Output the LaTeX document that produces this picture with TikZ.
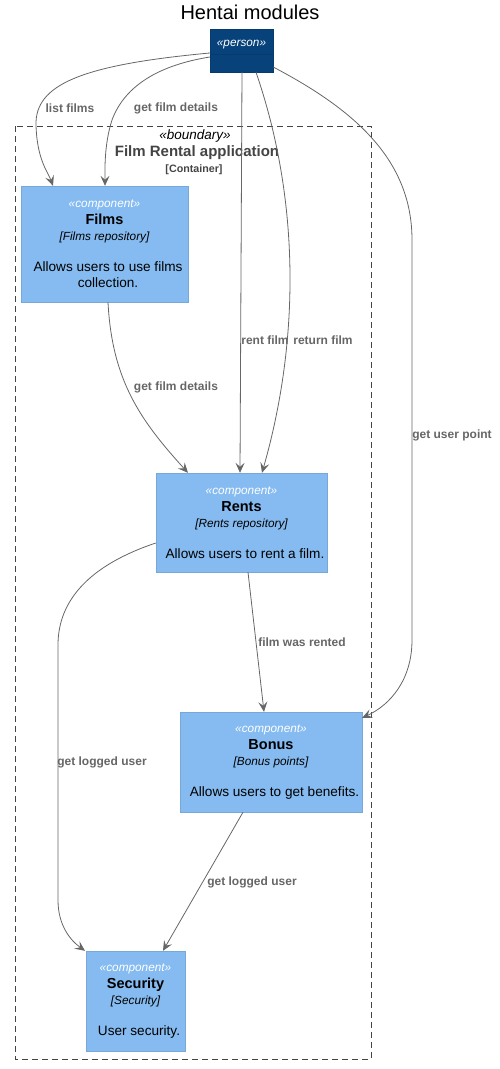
\documentclass[tikz,border=0pt]{standalone}
\usepackage{fontspec}
\setmainfont{Liberation Sans}
\usepackage{xcolor}
\usetikzlibrary{arrows.meta,positioning}
\definecolor{person-blue}{HTML}{08427B}
\definecolor{person-line}{HTML}{073B6F}
\definecolor{comp-blue}{HTML}{85BBF0}
\definecolor{comp-line}{HTML}{78A8D8}
\definecolor{rel-gray}{HTML}{666666}
\definecolor{bound-gray}{HTML}{444444}
\tikzset{
    person-box/.style = {draw=person-line, fill=person-blue, minimum width=63pt, minimum height=43pt, inner sep=0pt},
    comp-box/.style = {draw=comp-line, fill=comp-blue, align=center, inner sep=0pt, font=\fontsize{13.6}{16.5}\selectfont},
    rel/.style = {draw=rel-gray, line width=0.8pt, -{Stealth[length=10pt,width=9pt,inset=4pt]}},
    rel-label/.style = {text=rel-gray, inner sep=0pt, font=\fontsize{12}{14}\selectfont\bfseries},
    boundary-box/.style = {draw=bound-gray, dash pattern=on 6pt off 4pt},
}
\newcommand{\stereo}[1]{{\color{white}\fontsize{11.8}{13}\selectfont\itshape #1}}
\newcommand{\compname}[1]{{\fontsize{14.5}{16}\selectfont\bfseries #1}}
\newcommand{\comptech}[1]{{\fontsize{11.8}{13}\selectfont\itshape #1}}
\newcommand{\compdesc}[1]{\hspace*{7pt}#1}

\begin{document}
\begin{tikzpicture}[x=1pt, y=-1pt]
\useasboundingbox (0,0) rectangle (500,1069);

\node (title) at (250,12) {\fontsize{20}{22}\selectfont Hentai modules};

% boundary
\draw[boundary-box] (15,126) rectangle (371,1059);
\node (bound-stereo) at (195,136) {\fontsize{13.5}{15}\selectfont\itshape «boundary»};
\node[text=bound-gray] (bound-name) at (197,153) {\fontsize{15}{17}\selectfont\bfseries Film Rental application};
\node[text=bound-gray] (bound-type) at (194,170) {\fontsize{10.7}{12}\selectfont\bfseries [Container]};

% person
\node[person-box] (person) at (241.5,50.5) {};
\node (person-stereo) at (241.5,45) {\stereo{«person»}};
\draw[person-line] ([yshift=-3.5pt]person.west) -- ([yshift=-3.5pt]person.east);

% components
\node[comp-box, minimum width=167pt, minimum height=116pt] (films) at (104.5,244) {\stereo{«component»}\\ \compname{Films}\\ \comptech{[Films repository]}\\[14pt] \compdesc{Allows users to use films}\\ \compdesc{collection.}};
\node[comp-box, minimum width=171pt, minimum height=99pt] (rents) at (241.5,522.5) {\stereo{«component»}\\ \compname{Rents}\\ \comptech{[Rents repository]}\\[14pt] \compdesc{Allows users to rent a film.}};
\node[comp-box, minimum width=182pt, minimum height=100pt] (bonus) at (271,762) {\stereo{«component»}\\ \compname{Bonus}\\ \comptech{[Bonus points]}\\[14pt] \compdesc{Allows users to get benefits.}};
\node[comp-box, minimum width=99pt, minimum height=100pt] (security) at (135.5,1001) {\stereo{«component»}\\ \compname{Security}\\ \comptech{[Security]}\\[14pt] \compdesc{User security.}};

% relations
\draw[rel] ([yshift=-2.5pt]person.west) .. controls (80,65) and (35,85) .. (36,125) .. controls (37,160) and (48,172) .. ([xshift=-51.5pt]films.north);
\node[rel-label] (lbl-list) at (70,108) {list films};

\draw[rel] ([yshift=-6.5pt]person.west) .. controls (160,65) and (125,85) .. (112,120) .. controls (104,145) and (105,170) .. ([xshift=0.5pt]films.north);
\node[rel-label] (lbl-details-a) at (176,108) {get film details};

\draw[rel] ([xshift=0.5pt]person.south) -- ([xshift=-1.5pt]rents.north);
\node[rel-label] (lbl-rent) at (265,340) {rent film};

\draw[rel] ([xshift=14.5pt]person.south) .. controls (300,200) and (300,340) .. ([xshift=20.5pt]rents.north);
\node[rel-label] (lbl-return) at (323,340) {return film};

\draw[rel] ([yshift=-16.5pt]person.east) .. controls (355,110) and (412,160) .. (412,240) -- (412,640) .. controls (412,680) and (390,705) .. ([yshift=-6pt]bonus.north east);
\node[rel-label] (lbl-point) at (452,435) {get user point};

\draw[rel] ([xshift=3.5pt]films.south) .. controls (112,380) and (140,420) .. ([xshift=-53.5pt]rents.north);
\node[rel-label] (lbl-details-b) at (176,387) {get film details};

\draw[rel] ([xshift=6.5pt]rents.south) -- ([xshift=-7pt]bonus.north);
\node[rel-label] (lbl-rented) at (302,642) {film was rented};

\draw[rel] ([yshift=-20.5pt]rents.west) .. controls (90,565) and (58,600) .. (58,645) -- (58,900) .. controls (58,925) and (70,940) .. ([xshift=-50.5pt]security.north);
\node[rel-label] (lbl-logged-a) at (102,762) {get logged user};

\draw[rel] ([xshift=-28pt]bonus.south) -- ([xshift=27.5pt]security.north);
\node[rel-label] (lbl-logged-b) at (252,882) {get logged user};
\end{tikzpicture}
\end{document}
